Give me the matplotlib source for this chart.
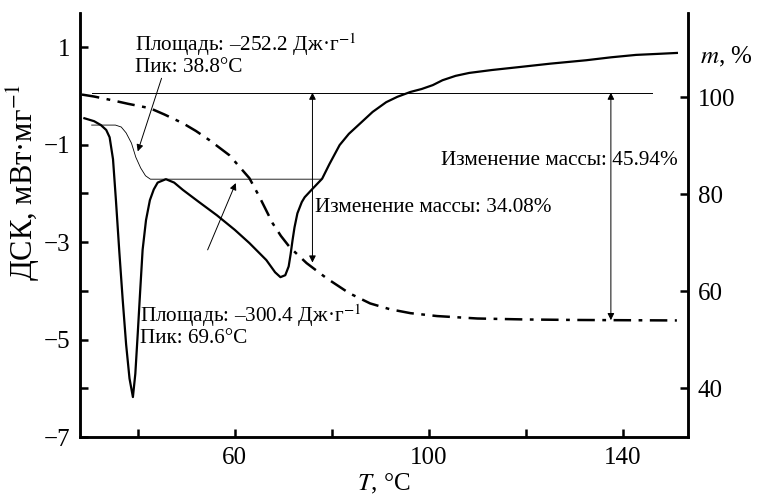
import numpy as np
import matplotlib
matplotlib.use("Agg")
import matplotlib.pyplot as plt

plt.rcParams["font.family"] = ["Liberation Serif", "DejaVu Serif"]
plt.rcParams["mathtext.fontset"] = "stix"

# DSC curve (T in degC, mW/mg)
dsc_t = [29.0, 31.0, 32.4, 33.5, 34.2, 34.9, 35.5, 36.2, 36.9, 37.6, 38.3, 39.0,
         39.5, 40.0, 40.5, 41.0, 41.7, 42.5, 43.3, 44.1, 45.8, 47.5, 49.3, 52.5,
         56.3, 60.0, 63.0, 66.5, 68.3, 69.4, 70.4, 71.1, 71.5, 71.9, 72.3, 72.9,
         73.8, 74.4, 75.8, 78.0, 79.5, 81.6, 83.5, 85.9, 88.4, 91.2, 93.5, 96.2,
         98.5, 100.8, 102.8, 105.5, 108.3, 113.0, 118.6, 125.0, 132.4, 137.5,
         142.7, 147.0, 151.1]
dsc_v = [-0.46, -0.52, -0.60, -0.70, -0.85, -1.30, -2.14, -3.20, -4.19, -5.10,
         -5.80, -6.18, -5.70, -4.87, -4.00, -3.16, -2.55, -2.14, -1.92, -1.78,
         -1.71, -1.78, -1.93, -2.17, -2.45, -2.75, -3.02, -3.37, -3.62, -3.72,
         -3.68, -3.50, -3.25, -2.96, -2.70, -2.41, -2.18, -2.08, -1.93, -1.70,
         -1.40, -1.01, -0.78, -0.56, -0.33, -0.13, -0.02, 0.08, 0.14, 0.22, 0.32,
         0.41, 0.47, 0.53, 0.59, 0.66, 0.73, 0.79, 0.84, 0.86, 0.88]

# TG curve (mass, %)
tg_t = [28.5, 31.0, 34.4, 38.0, 42.5, 45.5, 49.3, 52.0, 54.8, 58.9, 63.0, 65.1,
        67.8, 69.5, 71.3, 74.8, 78.9, 83.6, 87.9, 92.0, 96.2, 101.7, 110.0,
        120.0, 130.0, 140.0, 151.1]
tg_m = [100.5, 100.1, 99.4, 98.6, 97.7, 96.4, 94.6, 93.0, 91.1, 88.0, 83.3,
        79.4, 74.0, 71.4, 69.1, 65.8, 62.7, 59.6, 57.5, 56.3, 55.5, 54.9, 54.4,
        54.2, 54.1, 54.05, 54.0]

# integration baseline of the first peak
base_t = [30.5, 35.4, 36.6, 37.6, 38.7, 39.6, 40.6, 41.6, 42.6, 77.8]
base_v = [-0.60, -0.60, -0.64, -0.76, -0.97, -1.26, -1.48, -1.64, -1.71, -1.71]

mass_ref = 100.9
mass_loss = [34.08, 45.94]
loss_t = [76.0, 137.5]

fig = plt.figure(figsize=(7.57, 4.99), dpi=100)
ax = fig.add_axes([0.1057, 0.1242, 0.8032, 0.8498])
ax2 = ax.twinx()

ax.plot(dsc_t, dsc_v, color="black", lw=1.6)
ax.plot(base_t, base_v, color="black", lw=0.6)
ax2.plot(tg_t, tg_m, color="black", lw=1.8, dashes=(7, 3, 1.5, 3))

ax.set_xlim(28.1, 153.4)
ax.set_ylim(-7, 1.7)
ax2.set_ylim(30, 117.3)

ax.set_xticks([40, 60, 80, 100, 120, 140])
ax.set_xticklabels(["", "60", "", "100", "", "140"])
ax.set_yticks([1, -1, -2, -3, -4, -5, -6, -7])
ax.set_yticklabels(["1", "\u22121", "", "\u22123", "", "\u22125", "", "\u22127"])
ax2.set_yticks([40, 60, 80, 100])

for a in (ax, ax2):
    a.spines["top"].set_visible(False)
    for s in a.spines.values():
        s.set_linewidth(1.8)
    a.tick_params(direction="in", length=6, width=1.8, labelsize=18, pad=7)

ax.set_xlabel("$T$, °C", fontsize=18, labelpad=2)
ax.set_ylabel("ДСК, мВт·мг$^{-1}$", fontsize=22)
ax.yaxis.set_label_coords(-0.063, 0.6)
ax2.text(1.02, 0.896, "$m$, %", transform=ax2.transAxes, fontsize=18,
         va="center", ha="left")

# mass change arrows
ax2.plot([30.5, 146.0], [mass_ref, mass_ref], color="black", lw=0.7)
for t, d in zip(loss_t, mass_loss):
    ax2.annotate("", xy=(t, 100 - d), xytext=(t, mass_ref),
                 arrowprops=dict(arrowstyle="<|-|>", lw=0.7, color="black",
                                 mutation_scale=10, shrinkA=0, shrinkB=0))

fs = 15.3
ax.text(39.4, 1.04, "Площадь: –252.2 Дж·г$^{-1}$", fontsize=fs, va="center")
ax.text(39.4, 0.59, "Пик: 38.8°C", fontsize=fs, va="center")
ax.text(40.4, -4.50, "Площадь: –300.4 Дж·г$^{-1}$", fontsize=fs, va="center")
ax.text(40.4, -4.97, "Пик: 69.6°C", fontsize=fs, va="center")
ax.text(76.6, -2.30, "Изменение массы: 34.08%", fontsize=fs, va="center")
ax.text(102.5, -1.32, "Изменение массы: 45.94%", fontsize=fs, va="center")

ax.annotate("", xy=(40.0, -1.14), xytext=(44.9, 0.36),
            arrowprops=dict(arrowstyle="-|>", lw=0.7, color="black",
                            mutation_scale=10, shrinkA=0, shrinkB=0))
ax.annotate("", xy=(60.2, -1.79), xytext=(54.4, -3.16),
            arrowprops=dict(arrowstyle="-|>", lw=0.7, color="black",
                            mutation_scale=10, shrinkA=0, shrinkB=0))

fig.savefig("out.png", dpi=100)
